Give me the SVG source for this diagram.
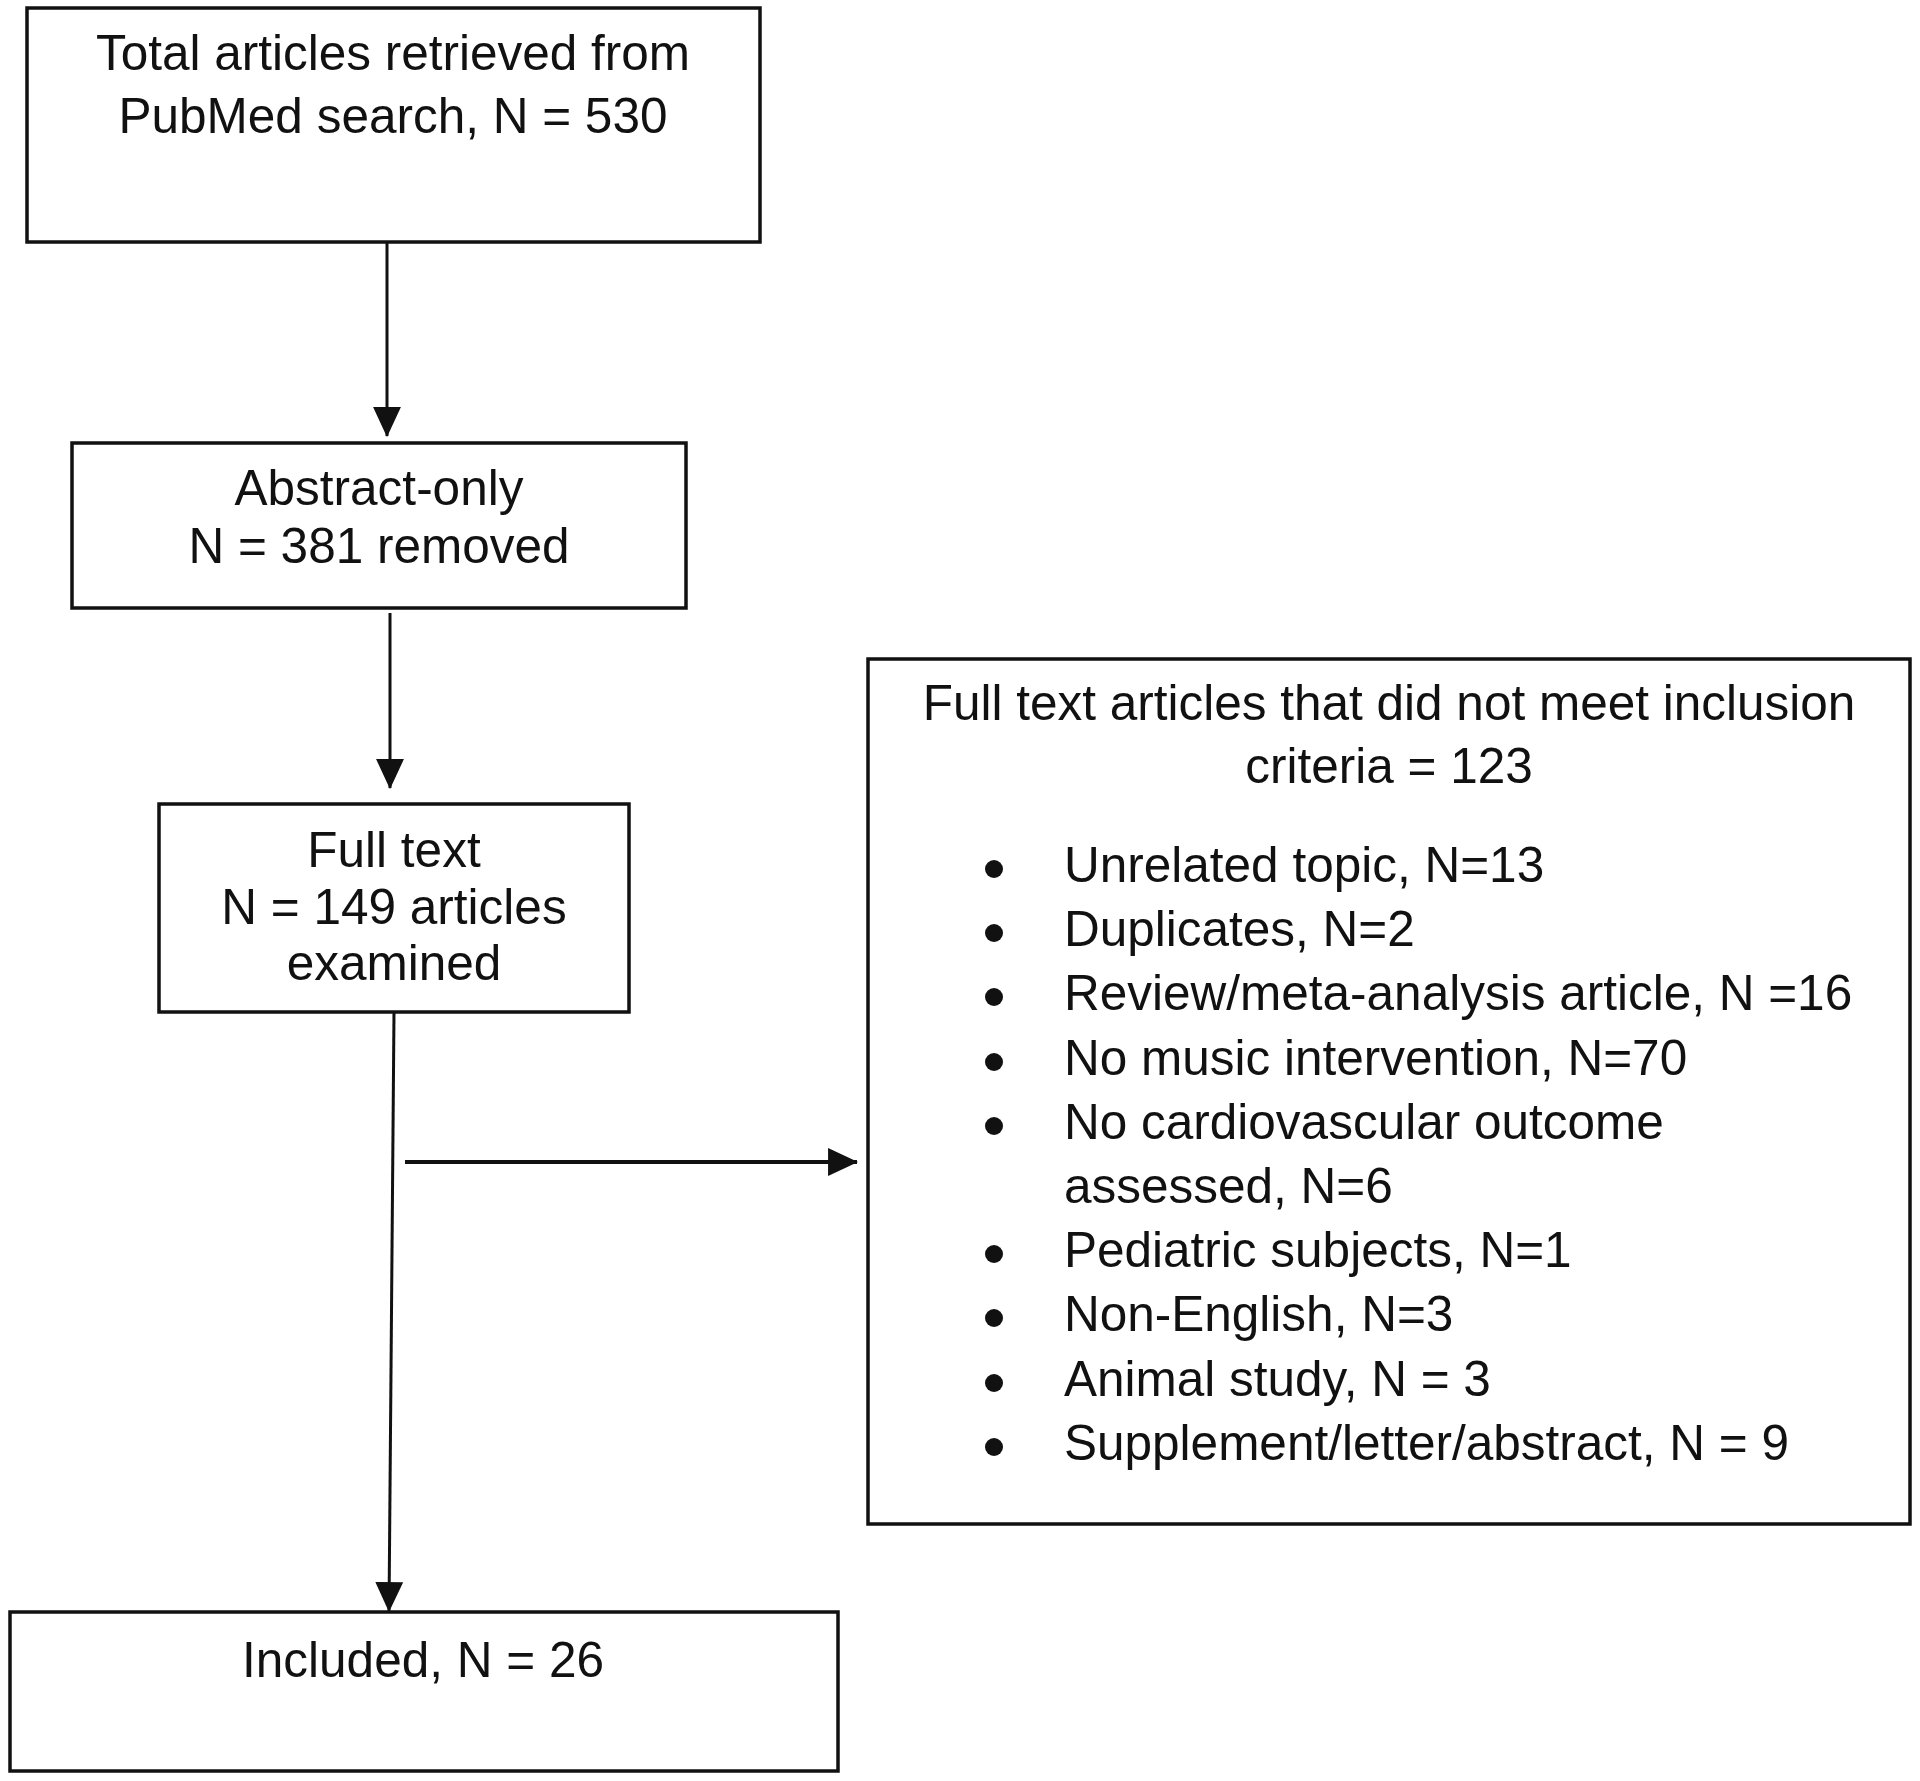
<svg xmlns="http://www.w3.org/2000/svg" width="1920" height="1781" viewBox="0 0 1920 1781">
<style>
  .box { fill: #ffffff; stroke: #111111; stroke-width: 3.5; }
  .t { font-family: "Liberation Sans", Arial, sans-serif; font-size: 49.5px; fill: #111111; }
  .c { text-anchor: middle; }
  .edge { stroke: #111111; stroke-width: 3; fill: none; }
  .bul { fill: #111111; }
</style>
<defs>
  <marker id="ah" markerUnits="userSpaceOnUse" markerWidth="30" markerHeight="30" viewBox="0 0 28 28" refX="27" refY="14" orient="auto">
    <path d="M0,1 L28,14 L0,27 Z" fill="#111111"/>
  </marker>
</defs>
<rect width="1920" height="1781" fill="#ffffff"/>
<g id="connectors">
  <path class="edge" d="M387,242 L387,436" marker-end="url(#ah)"/>
  <path class="edge" d="M390,613 L390,788" marker-end="url(#ah)"/>
  <path class="edge" d="M394,1012 L389,1611" marker-end="url(#ah)"/>
  <path class="edge" style="stroke-width:4" d="M405,1162 L857,1162" marker-end="url(#ah)"/>
</g>
<g id="node-total">
  <rect class="box" x="27" y="8" width="733" height="234"/>
  <text class="t c" x="393" y="70">Total articles retrieved from</text>
  <text class="t c" x="393" y="133">PubMed search, N = 530</text>
</g>
<g id="node-abstract">
  <rect class="box" x="72" y="443" width="614" height="165"/>
  <text class="t c" x="379" y="505">Abstract-only</text>
  <text class="t c" x="379" y="563">N = 381 removed</text>
</g>
<g id="node-fulltext">
  <rect class="box" x="159" y="804" width="470" height="208"/>
  <text class="t c" x="394" y="867">Full text</text>
  <text class="t c" x="394" y="924">N = 149 articles</text>
  <text class="t c" x="394" y="980">examined</text>
</g>
<g id="node-included">
  <rect class="box" x="10" y="1612" width="828" height="159"/>
  <text class="t c" x="423" y="1677">Included, N = 26</text>
</g>
<g id="node-excluded">
  <rect class="box" x="868" y="659" width="1042" height="865"/>
  <text class="t c" x="1389" y="720">Full text articles that did not meet inclusion</text>
  <text class="t c" x="1389" y="783">criteria = 123</text>
  <g class="bul">
    <circle cx="994" cy="869" r="9"/>
    <circle cx="994" cy="933" r="9"/>
    <circle cx="994" cy="997" r="9"/>
    <circle cx="994" cy="1062" r="9"/>
    <circle cx="994" cy="1126" r="9"/>
    <circle cx="994" cy="1254" r="9"/>
    <circle cx="994" cy="1318" r="9"/>
    <circle cx="994" cy="1383" r="9"/>
    <circle cx="994" cy="1447" r="9"/>
  </g>
  <text class="t" x="1064" y="882">Unrelated topic, N=13</text>
  <text class="t" x="1064" y="946">Duplicates, N=2</text>
  <text class="t" x="1064" y="1010">Review/meta-analysis article, N =16</text>
  <text class="t" x="1064" y="1075">No music intervention, N=70</text>
  <text class="t" x="1064" y="1139">No cardiovascular outcome</text>
  <text class="t" x="1064" y="1203">assessed, N=6</text>
  <text class="t" x="1064" y="1267">Pediatric subjects, N=1</text>
  <text class="t" x="1064" y="1331">Non-English, N=3</text>
  <text class="t" x="1064" y="1396">Animal study, N = 3</text>
  <text class="t" x="1064" y="1460">Supplement/letter/abstract, N = 9</text>
</g>
</svg>
